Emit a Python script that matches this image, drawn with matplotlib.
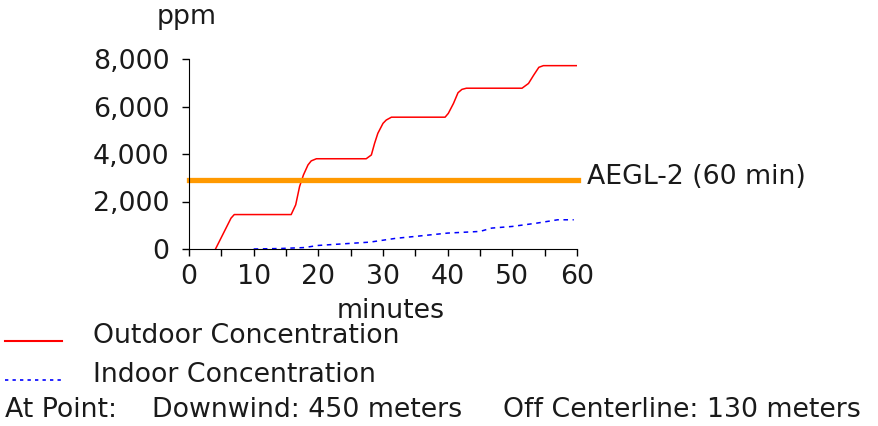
import matplotlib.pyplot as plt
from matplotlib.ticker import FuncFormatter, MultipleLocator

# Outdoor concentration (ppm)
outdoor_min = [4.1, 6.5, 7.0, 15.8, 16.5, 17.1, 17.7, 18.4, 18.9, 19.7, 27.4, 28.2,
               28.7, 29.2, 30.0, 30.5, 31.3, 39.6, 40.1, 40.9, 41.6, 42.2, 42.9,
               51.5, 52.5, 53.3, 54.1, 54.8, 60.0]
outdoor_ppm = [0, 1300, 1450, 1450, 1860, 2630, 3120, 3540, 3710, 3800, 3800, 3960,
               4450, 4870, 5290, 5430, 5550, 5550, 5710, 6130, 6580, 6720, 6770,
               6770, 6970, 7320, 7650, 7720, 7720]

# Indoor concentration (ppm)
indoor_min = [10, 14, 17.8, 20, 24, 28, 29.5, 32, 35, 40, 45, 46.8, 50, 53.8, 57, 59.5]
indoor_ppm = [0, 20, 60, 150, 220, 290, 350, 450, 530, 670, 740, 880, 950, 1090, 1230, 1230]

aegl2 = 2920
W, H = 879, 426
fs = 19.3
txt = '#1a1a1a'

fig = plt.figure(figsize=(W / 100, H / 100), dpi=100)
ax = fig.add_axes([189 / W, 1 - 249 / H, (577 - 189) / W, (249 - 59) / H])

ax.plot(outdoor_min, outdoor_ppm, color='red', lw=1.1)
ax.plot(indoor_min, indoor_ppm, color='blue', lw=1.1, linestyle=(0, (3, 3)))
ax.axhline(aegl2, color='#ff9900', lw=3.8, xmin=0, xmax=1.003, clip_on=False)

ax.set_xlim(0, 60)
ax.set_ylim(0, 8000)
ax.xaxis.set_major_locator(MultipleLocator(10))
ax.xaxis.set_minor_locator(MultipleLocator(5))
ax.yaxis.set_major_locator(MultipleLocator(2000))
ax.yaxis.set_major_formatter(FuncFormatter(lambda v, p: f'{int(v):,}'))
for s in ['top', 'right']:
    ax.spines[s].set_visible(False)
ax.tick_params(which='both', length=5, width=1, labelsize=fs, labelcolor=txt)
ax.tick_params(axis='x', which='both', pad=6)
ax.tick_params(axis='y', pad=9)
ax.patch.set_alpha(0)

fig.text(187 / W, 1 - 17 / H, 'ppm', fontsize=fs, color=txt, ha='center', va='center')
fig.text(391 / W, 1 - 311 / H, 'minutes', fontsize=fs, color=txt, ha='center', va='center')
fig.text(587 / W, 1 - 177 / H, 'AEGL-2 (60 min)', fontsize=fs, color=txt, va='center')

fig.add_artist(plt.Line2D([5 / W, 62 / W], [1 - 341 / H] * 2, color='red', lw=1.5))
fig.text(93 / W, 1 - 336 / H, 'Outdoor Concentration', fontsize=fs, color=txt, va='center')
fig.add_artist(plt.Line2D([5 / W, 62 / W], [1 - 380 / H] * 2, color='blue', lw=1.2,
                          linestyle=(0, (2, 2.5))))
fig.text(93 / W, 1 - 375 / H, 'Indoor Concentration', fontsize=fs, color=txt, va='center')

fig.text(5 / W, 1 - 410 / H, 'At Point:', fontsize=fs, color=txt, va='center')
fig.text(152 / W, 1 - 410 / H, 'Downwind: 450 meters', fontsize=fs, color=txt, va='center')
fig.text(503 / W, 1 - 410 / H, 'Off Centerline: 130 meters', fontsize=fs, color=txt, va='center')

fig.savefig('out.png', dpi=100)
